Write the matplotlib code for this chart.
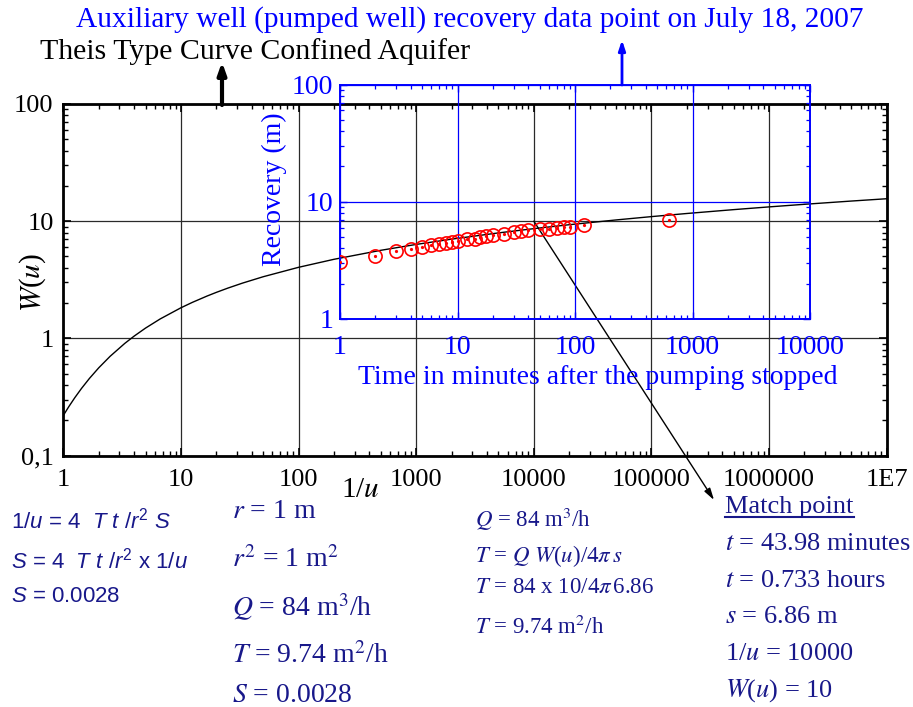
import matplotlib
matplotlib.use("Agg")
import matplotlib.pyplot as plt
from matplotlib.ticker import FixedLocator, FixedFormatter, LogLocator, NullFormatter
from matplotlib.lines import Line2D

# ---------------- data ----------------
# Theis type curve (tabulated well function W(u) vs 1/u)
inv_u = [1, 1.111, 1.25, 1.4286, 1.6667, 2, 2.5, 3.333, 4, 5, 6.667, 10, 12.5, 16.667,
         20, 25, 33.33, 50, 100, 200, 500, 1000, 2000, 5000, 1e4, 2e4, 5e4, 1e5,
         2e5, 5e5, 1e6, 2e6, 5e6, 1e7]
W_u = [0.2194, 0.2602, 0.3106, 0.3738, 0.4544, 0.5598, 0.7024, 0.9057, 1.0443, 1.2227,
       1.4645, 1.8229, 2.0269, 2.2953, 2.4679, 2.6813, 2.9591, 3.3547, 4.0379, 4.7261,
       5.6394, 6.3315, 7.0242, 7.9402, 8.6332, 9.3263, 10.2426, 10.9357, 11.6289,
       12.5451, 13.2383, 13.9315, 14.8477, 15.5409]

# Recovery data (inset)
time_min = [1, 2, 3, 4, 5, 6, 7, 8, 9, 10, 12, 14, 15.5, 17.5, 20, 25, 30, 35, 40,
            50, 60, 70, 80, 90, 120, 630]
recovery_m = [3.03, 3.45, 3.78, 3.96, 4.12, 4.23, 4.34, 4.46, 4.54, 4.63, 4.76, 4.82,
              4.95, 5.05, 5.15, 5.28, 5.46, 5.57, 5.68, 5.80, 5.87, 5.94, 6.03, 6.10,
              6.31, 6.95]

main_xticks = [1, 10, 100, 1000, 1e4, 1e5, 1e6, 1e7]
main_xlabels = ["1", "10", "100", "1000", "10000", "100000", "1000000", "1E7"]
main_yticks = [0.1, 1, 10, 100]
main_ylabels = ["0,1", "1", "10", "100"]
inset_xticks = [1, 10, 100, 1000, 10000]
inset_xlabels = ["1", "10", "100", "1000", "10000"]
inset_yticks = [1, 10, 100]
inset_ylabels = ["1", "10", "100"]
match_point = (1e4, 10)

# ---------------- style ----------------
plt.rcParams['font.family'] = ['Liberation Serif', 'DejaVu Serif']
plt.rcParams['mathtext.fontset'] = 'custom'
plt.rcParams['mathtext.rm'] = 'Liberation Sans'
plt.rcParams['mathtext.it'] = 'Liberation Sans:italic'

W, H = 913, 707
fig = plt.figure(figsize=(W / 100, H / 100), dpi=100)

def fx(x):
    return x / W

def fy(y):
    return 1 - y / H

BLUE = '#0000FF'
NAVY = '#18188a'

# ---------------- main axes ----------------
ax = fig.add_axes([fx(63.3), fy(455.5), (886.7 - 63.3) / W, (455.5 - 104) / H])
ax.set_xscale('log')
ax.set_yscale('log')
ax.set_xlim(1, 1e7)
ax.set_ylim(0.1, 100)
ax.plot(inv_u, W_u, color='black', lw=1.0, zorder=3)
ax.xaxis.set_major_locator(FixedLocator(main_xticks))
ax.xaxis.set_major_formatter(FixedFormatter(main_xlabels))
ax.yaxis.set_major_locator(FixedLocator(main_yticks))
ax.yaxis.set_major_formatter(FixedFormatter(main_ylabels))
ax.xaxis.set_minor_locator(LogLocator(base=10, subs=range(2, 10), numticks=20))
ax.yaxis.set_minor_locator(LogLocator(base=10, subs=range(2, 10), numticks=20))
ax.xaxis.set_minor_formatter(NullFormatter())
ax.yaxis.set_minor_formatter(NullFormatter())
ax.tick_params(which='both', direction='in', top=True, right=True, color='black')
ax.tick_params(which='major', length=6, width=1.2, labelsize=19)
ax.tick_params(which='minor', length=3.5, width=1.0)
ax.tick_params(axis='x', which='major', pad=10)
ax.tick_params(axis='y', which='major', pad=7)
ax.grid(True, which='major', color='#2a2a2a', lw=0.9)
for s in ax.spines.values():
    s.set_linewidth(2.0)
    s.set_color('black')
ax.set_facecolor('white')

fig.text(fx(360), fy(490), "1/$u$", fontsize=21, ha='center', va='center',
         math_fontfamily='stix')
fig.text(fx(33), fy(282), "$W$($u$)", fontsize=21, ha='center', va='center',
         rotation=90, math_fontfamily='stix')

# ---------------- inset axes ----------------
axi = fig.add_axes([fx(340), fy(318.8), 470 / W, (318.8 - 84.5) / H])
axi.set_xscale('log')
axi.set_yscale('log')
axi.set_xlim(1, 1e4)
axi.set_ylim(1, 100)
axi.patch.set_alpha(0)
axi.plot(time_min, recovery_m, linestyle='none', marker='o', markersize=9.5,
         markerfacecolor='none', markeredgecolor='red', markeredgewidth=1.2, zorder=4)
axi.plot(time_min, recovery_m, linestyle='none', marker='o', markersize=1.3,
         markerfacecolor='red', markeredgecolor='red', zorder=4)
axi.xaxis.set_major_locator(FixedLocator(inset_xticks))
axi.xaxis.set_major_formatter(FixedFormatter(inset_xlabels))
axi.yaxis.set_major_locator(FixedLocator(inset_yticks))
axi.yaxis.set_major_formatter(FixedFormatter(inset_ylabels))
axi.xaxis.set_minor_locator(LogLocator(base=10, subs=range(2, 10), numticks=20))
axi.yaxis.set_minor_locator(LogLocator(base=10, subs=range(2, 10), numticks=20))
axi.xaxis.set_minor_formatter(NullFormatter())
axi.yaxis.set_minor_formatter(NullFormatter())
axi.tick_params(which='both', direction='in', top=True, right=True, color=BLUE,
                labelcolor=BLUE)
axi.tick_params(which='major', length=5, width=1.0, labelsize=20)
axi.tick_params(which='minor', length=3, width=0.9)
axi.tick_params(axis='x', which='major', pad=12)
axi.tick_params(axis='y', which='major', pad=5)
axi.grid(True, which='major', color=BLUE, lw=0.9)
for s in axi.spines.values():
    s.set_linewidth(1.4)
    s.set_color(BLUE)

fig.text(fx(598), fy(377), "Time in minutes after the pumping stopped", fontsize=20,
         color=BLUE, ha='center', va='center')
fig.text(fx(274), fy(189), "Recovery (m)", fontsize=20, color=BLUE, ha='center',
         va='center', rotation=90)

# ---------------- titles & arrows ----------------
fig.text(fx(40), fy(52), "Theis Type Curve Confined Aquifer", fontsize=21.5,
         color='black', ha='left', va='center')
fig.text(fx(470), fy(20), "Auxiliary well (pumped well) recovery data point on July 18, 2007",
         fontsize=21.2, color=BLUE, ha='center', va='center')

ax.annotate('', xy=(fx(222), fy(62)), xytext=(fx(222), fy(105)),
            xycoords='figure fraction', textcoords='figure fraction',
            arrowprops=dict(arrowstyle='-|>,head_width=0.25,head_length=0.7',
                            lw=3, color='black', shrinkA=0, shrinkB=0))
ax.annotate('', xy=(fx(622), fy(40)), xytext=(fx(622), fy(85)),
            xycoords='figure fraction', textcoords='figure fraction',
            arrowprops=dict(arrowstyle='-|>,head_width=0.2,head_length=0.6',
                            lw=2, color=BLUE, shrinkA=0, shrinkB=0))
ax.annotate('', xy=(fx(714), fy(500)), xytext=match_point,
            xycoords='figure fraction', textcoords='data',
            arrowprops=dict(arrowstyle='-|>,head_width=0.2,head_length=0.7',
                            lw=1.0, color='black', shrinkA=0, shrinkB=0),
            annotation_clip=False, zorder=5)

# ---------------- bottom text blocks ----------------
def t(x, y, s, size, family='serif'):
    if family == 'sans':
        fig.text(fx(x), fy(y), s, fontsize=size, color=NAVY, ha='left', va='baseline',
                 family=['Liberation Sans', 'DejaVu Sans'], math_fontfamily='custom')
    else:
        fig.text(fx(x), fy(y), s, fontsize=size, color=NAVY, ha='left', va='baseline',
                 family=['Liberation Serif', 'DejaVu Serif'], math_fontfamily='stix')

# left block (sans)
t(11, 529, r"1/$u$ = 4  $T\ t\ /r^2\ S$", 16, 'sans')
t(11, 568, r"$S$ = 4  $T\ t\ /r^2$ x 1/$u$", 16, 'sans')
t(11, 602, r"$S$ = 0.0028", 16, 'sans')

# middle block
t(232, 518, r"$r$ = 1 m", 20)
t(232, 567, r"$r^2$ = 1 m$^2$", 20)
t(232, 616, r"$Q$ = 84 m$^3$/h", 20)
t(232, 663, r"$T$ = 9.74 m$^2$/h", 20)
t(232, 702, r"$S$ = 0.0028", 20)

# third block
t(475, 527, r"$Q$ = 84 m$^3$/h", 16.5)
t(475, 562, r"$T$ = $Q$ $W$($u$)/4$\pi\, s$", 16.5)
t(475, 593, r"$T$ = 84 x 10/4$\pi\,$6.86", 16.5)
t(475, 634, r"$T$ = 9.74 m$^2$/h", 16.5)

# right block
t(725, 513, "Match point", 19)
fig.add_artist(Line2D([fx(725), fx(854)], [fy(517), fy(517)], color=NAVY, lw=1.5))
t(725, 550, r"$t$ = 43.98 minutes", 19)
t(725, 587, r"$t$ = 0.733 hours", 19)
t(725, 623, r"$s$ = 6.86 m", 19)
t(725, 660, r"1/$u$ = 10000", 19)
t(725, 697, r"$W$($u$) = 10", 19)

fig.savefig("out.png", dpi=100)
